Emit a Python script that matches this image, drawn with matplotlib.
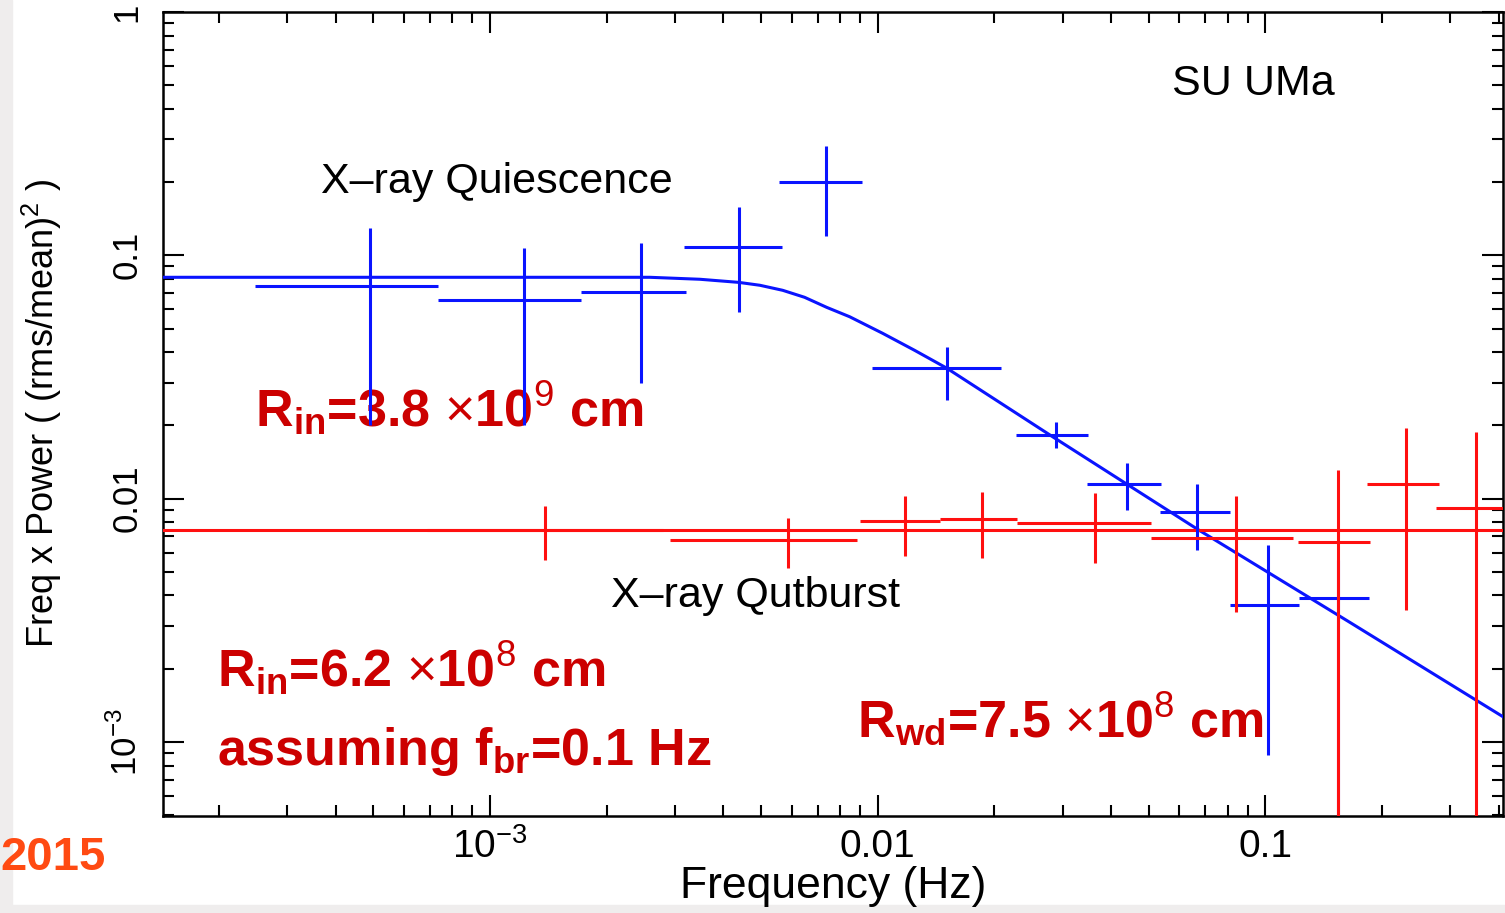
import numpy as np
import matplotlib.pyplot as plt
from matplotlib.patches import Rectangle

plt.rcParams['font.family'] = ['Liberation Sans', 'DejaVu Sans']
plt.rcParams['mathtext.fontset'] = 'custom'
plt.rcParams['mathtext.rm'] = 'Liberation Sans'
plt.rcParams['mathtext.bf'] = 'Liberation Sans:bold'

# X-ray quiescence power spectrum (frequency bins, f*P with error bars)
q_freq = [4.91e-4, 1.224e-3, 2.45e-3, 4.38e-3, 7.35e-3, 0.01506, 0.02876, 0.04384, 0.06679, 0.1018, 0.1542]
q_flo = [2.48e-4, 7.34e-4, 1.716e-3, 3.16e-3, 5.58e-3, 9.65e-3, 0.0227, 0.0347, 0.05333, 0.0808, 0.1223]
q_fhi = [7.34e-4, 1.716e-3, 3.20e-3, 5.66e-3, 9.10e-3, 0.02076, 0.03497, 0.05365, 0.08127, 0.1223, 0.1854]
q_pow = [0.0746, 0.0653, 0.0705, 0.1079, 0.1995, 0.0344, 0.0182, 0.01146, 0.00879, 0.00364, 0.00389]
q_plo = [0.0200, 0.0200, 0.0298, 0.0583, 0.1197, 0.0254, 0.0161, 0.00895, 0.00614, 8.81e-4, 3e-4]
q_phi = [0.1291, 0.107, 0.112, 0.1574, 0.2805, 0.0419, 0.0206, 0.01397, 0.01146, 0.00643, 0.00557]

# X-ray outburst power spectrum
o_freq = [1.386e-3, 5.86e-3, 0.01174, 0.01854, 0.03625, 0.0842, 0.1542, 0.2309, 0.3498]
o_flo = [6.88e-4, 2.91e-3, 8.99e-3, 0.01444, 0.02281, 0.05084, 0.1216, 0.1832, 0.2759]
o_fhi = [2.79e-3, 8.83e-3, 0.01444, 0.02281, 0.05084, 0.1181, 0.1865, 0.2809, 0.42]
o_pow = [7.41e-3, 6.74e-3, 8.07e-3, 8.22e-3, 7.92e-3, 6.87e-3, 6.61e-3, 0.01146, 9.12e-3]
o_plo = [5.57e-3, 5.18e-3, 5.79e-3, 5.69e-3, 5.42e-3, 3.41e-3, 3e-4, 3.48e-3, 3e-4]
o_phi = [9.29e-3, 8.30e-3, 0.01022, 0.01061, 0.01051, 0.01022, 0.01306, 0.01945, 0.01873]

# model curves
qmod_freq = [1.436e-4, 1.92e-3, 2.585e-3, 3.48e-3, 4.38e-3, 4.97e-3, 5.69e-3, 6.48e-3, 7.39e-3,
             8.47e-3, 0.0103, 0.01245, 0.01506, 0.02842, 0.06684, 0.1646, 0.413]
qmod_pow = [0.0812, 0.0812, 0.0812, 0.0797, 0.0774, 0.0753, 0.0718, 0.0672, 0.0611,
            0.0559, 0.0478, 0.0407, 0.0344, 0.01786, 7.48e-3, 3.11e-3, 1.26e-3]
omod_freq = [1.436e-4, 0.42]
omod_pow = [7.41e-3, 7.41e-3]

fig = plt.figure(figsize=(15.05, 9.13), dpi=100)
fig.patches.append(Rectangle((0, 0), 0.008, 1, transform=fig.transFigure, color='#efeded', zorder=-1))
fig.patches.append(Rectangle((0, 0), 1, 0.009, transform=fig.transFigure, color='#efeded', zorder=-1))
ax = fig.add_axes([0.1083, 0.1062, 0.8904, 0.8807])

blue = '#0a14ff'
red = '#ff1010'

def err(v, lo, hi):
    v = np.array(v)
    return [v - np.array(lo), np.array(hi) - v]

ax.plot(qmod_freq, qmod_pow, color=blue, lw=2.2, zorder=3)
ax.plot(omod_freq, omod_pow, color=red, lw=2.2, zorder=3)
ax.errorbar(q_freq, q_pow, xerr=err(q_freq, q_flo, q_fhi), yerr=err(q_pow, q_plo, q_phi),
            fmt='none', ecolor=blue, elinewidth=2.2, capsize=0, zorder=4)
ax.errorbar(o_freq, o_pow, xerr=err(o_freq, o_flo, o_fhi), yerr=err(o_pow, o_plo, o_phi),
            fmt='none', ecolor=red, elinewidth=2.2, capsize=0, zorder=5)

ax.set_xscale('log')
ax.set_yscale('log')
ax.set_xlim(1.436e-4, 0.41)
ax.set_ylim(4.96e-4, 1.0)

ax.set_xticks([1e-3, 0.01, 0.1])
ax.set_xticklabels(['10$^{-3}$', '0.01', '0.1'])
ax.set_yticks([1e-3, 0.01, 0.1, 1])
ax.set_yticklabels(['10$^{-3}$', '0.01', '0.1', '1'], rotation=90, va='center')
ax.tick_params(which='both', direction='in', top=True, right=True, width=1.5)
ax.tick_params(which='major', length=15)
ax.tick_params(which='minor', length=8)
ax.tick_params(axis='x', pad=9, labelsize=28)
ax.tick_params(axis='y', pad=14, labelsize=25)
for s in ax.spines.values():
    s.set_linewidth(1.8)

ax.set_xlabel('Frequency (Hz)', fontsize=32, labelpad=0)
ax.set_ylabel('Freq x Power ( (rms/mean)$^2$ )', fontsize=26, labelpad=32)

ax.text(0.753, 0.897, 'SU UMa', transform=ax.transAxes, fontsize=31)
ax.text(0.118, 0.775, 'X\u2013ray Quiescence', transform=ax.transAxes, fontsize=31)
ax.text(0.334, 0.260, 'X\u2013ray Qutburst', transform=ax.transAxes, fontsize=31)

dark = '#cc0000'
ax.text(0.0687, 0.483, r'R$_{\mathbf{in}}$=3.8 $\times$10$^{9}$ cm', transform=ax.transAxes,
        fontsize=37.5, fontweight='bold', color=dark)
ax.text(0.0403, 0.160, r'R$_{\mathbf{in}}$=6.2 $\times$10$^{8}$ cm', transform=ax.transAxes,
        fontsize=37.5, fontweight='bold', color=dark)
ax.text(0.0403, 0.063, r'assuming f$_{\mathbf{br}}$=0.1 Hz', transform=ax.transAxes,
        fontsize=37.5, fontweight='bold', color=dark)
ax.text(0.518, 0.098, r'R$_{\mathbf{wd}}$=7.5 $\times$10$^{8}$ cm', transform=ax.transAxes,
        fontsize=37.5, fontweight='bold', color=dark)

fig.text(0.0, 0.047, '2015', fontsize=34, fontweight='bold', color='#ff4a12')

fig.savefig('out.png', dpi=100)
